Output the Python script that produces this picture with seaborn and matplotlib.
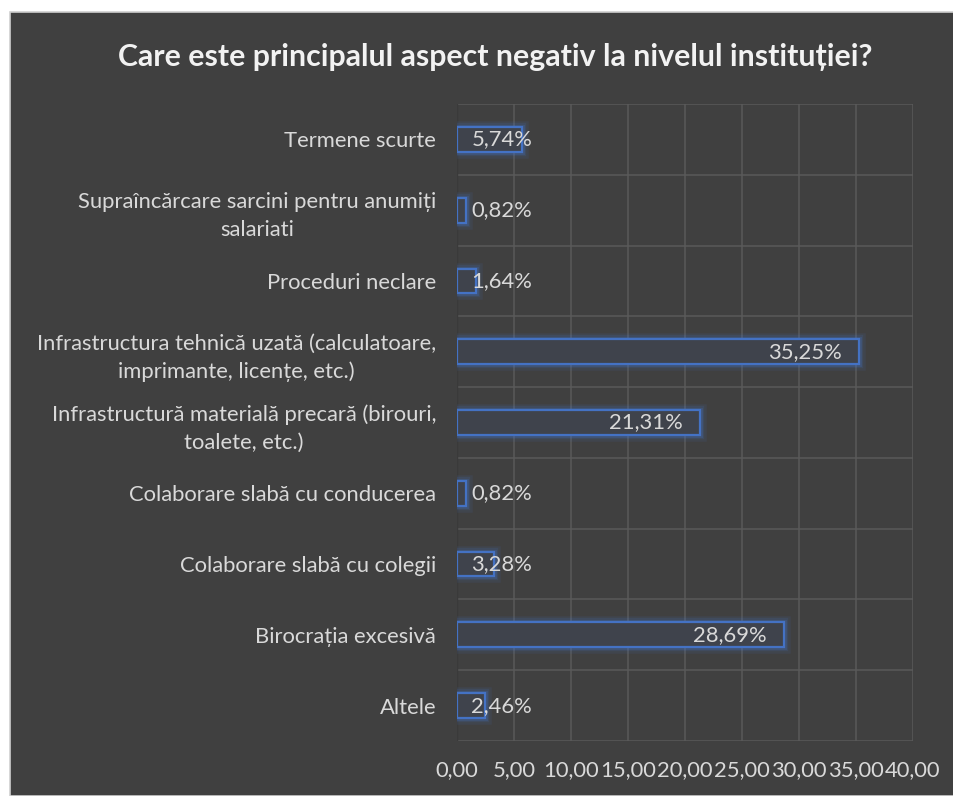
import matplotlib
matplotlib.use("Agg")
import matplotlib.pyplot as plt
import matplotlib.patheffects as pe
from matplotlib.patches import Rectangle
from matplotlib.ticker import FuncFormatter, MultipleLocator
import seaborn as sns
import pandas as pd

categories = [
    "Termene scurte",
    "Supraîncărcare sarcini pentru anumiți\nsalariati",
    "Proceduri neclare",
    "Infrastructura tehnică uzată (calculatoare,\nimprimante, licențe, etc.)",
    "Infrastructură materială precară (birouri,\ntoalete, etc.)",
    "Colaborare slabă cu conducerea",
    "Colaborare slabă cu colegii",
    "Birocrația excesivă",
    "Altele",
]
values = [5.74, 0.82, 1.64, 35.25, 21.31, 0.82, 3.28, 28.69, 2.46]
title = "Care este principalul aspect negativ la nivelul instituției?"

BG = "#404040"
GRID = "#5a5a5a"
TXT = "#d9d9d9"
BLUE = "#4472c4"
FS = 15.8

sns.set_theme(style="dark")
plt.rcParams["font.family"] = ["Lato", "DejaVu Sans"]

fig = plt.figure(figsize=(9.54, 7.96), dpi=100)
fig.patch.set_facecolor("white")
fig.patches.append(Rectangle((10 / 954, 0), 1 - 10 / 954, 1 - 12 / 796,
                             transform=fig.transFigure, facecolor=BG,
                             edgecolor="#d0d0d0", linewidth=1.2, zorder=-10))

ax = fig.add_axes([457 / 954, 55 / 796, (913 - 457) / 954, (741 - 104) / 796])
ax.set_facecolor(BG)

df = pd.DataFrame({"cat": categories, "val": values})
sns.barplot(data=df, x="val", y="cat", orient="h", width=0.35,
            color=BLUE, ax=ax, zorder=3)

glow = [pe.Stroke(linewidth=9, foreground=BLUE, alpha=0.10),
        pe.Stroke(linewidth=6, foreground=BLUE, alpha=0.15),
        pe.Stroke(linewidth=3.5, foreground=BLUE, alpha=0.25),
        pe.Normal()]
for p in ax.patches:
    p.set_facecolor("#3f434c")
    p.set_edgecolor(BLUE)
    p.set_linewidth(1.6)
    p.set_path_effects(glow)

ax.set_xlim(0, 40)
ax.set_ylim(len(categories) - 0.5, -0.5)
ax.xaxis.set_major_locator(MultipleLocator(5))
ax.xaxis.set_major_formatter(FuncFormatter(lambda v, _: f"{v:.2f}".replace(".", ",")))

for x in range(5, 45, 5):
    ax.axvline(x, color=GRID, lw=1.1, zorder=1)
for i in range(len(categories) + 1):
    ax.axhline(i - 0.5, color=GRID, lw=1.1, zorder=1)
ax.axvline(0, color="#3a3a3a", lw=1.0, zorder=1)

for s in ax.spines.values():
    s.set_visible(False)
ax.grid(False)
ax.set_xlabel("")
ax.set_ylabel("")
ax.tick_params(axis="x", colors=TXT, labelsize=FS, length=0, pad=14)
ax.tick_params(axis="y", colors=TXT, labelsize=FS, length=0, pad=15)
for lab in ax.get_yticklabels():
    lab.set_multialignment("center")
    lab.set_linespacing(1.5)
    lab.set_color(TXT)
for lab in ax.get_xticklabels():
    lab.set_color(TXT)

for i, v in enumerate(values):
    right = max(v - 1.5, 6.6)
    ax.text(right, i, f"{v:.2f}%".replace(".", ","), ha="right", va="center",
            color=TXT, fontsize=FS, zorder=5)

fig.text(495 / 954, 1 - 57 / 796, title, ha="center", va="center",
         color="#f2f2f2", fontsize=21.8, fontweight="bold")

fig.savefig("out.png", dpi=100, facecolor=fig.get_facecolor())
